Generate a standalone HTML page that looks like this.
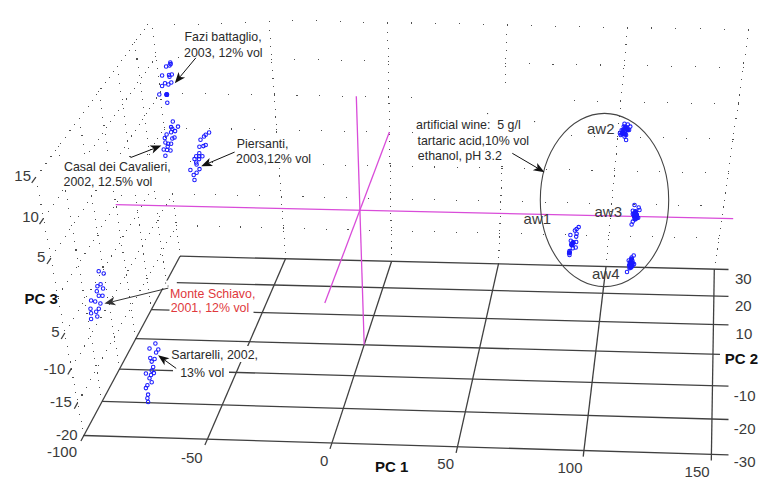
<!DOCTYPE html>
<html><head><meta charset="utf-8"><style>
html,body{margin:0;padding:0;background:#fff;}
svg{display:block}
text{font-family:"Liberation Sans",sans-serif;}
.an{font-size:12.4px;fill:#2a2a2a}
.ax{font-size:15px;fill:#3a3a3a}
.lb{font-size:15px;font-weight:bold;fill:#111}
</style></head><body>
<svg width="763" height="482" viewBox="0 0 763 482">
<rect width="763" height="482" fill="#fff"/>
<g shape-rendering="crispEdges">
<rect x="175.7" y="224.9" width="1.1" height="1.1" fill="#505050"/>
<rect x="197.1" y="225.4" width="1.1" height="1.1" fill="#505050"/>
<rect x="218.5" y="225.9" width="1.1" height="1.1" fill="#505050"/>
<rect x="239.9" y="226.4" width="1.1" height="1.1" fill="#505050"/>
<rect x="261.3" y="226.9" width="1.1" height="1.1" fill="#505050"/>
<rect x="282.8" y="227.4" width="1.1" height="1.1" fill="#505050"/>
<rect x="304.3" y="227.9" width="1.1" height="1.1" fill="#505050"/>
<rect x="325.8" y="228.5" width="1.1" height="1.1" fill="#505050"/>
<rect x="347.4" y="229.0" width="1.1" height="1.1" fill="#505050"/>
<rect x="368.9" y="229.5" width="1.1" height="1.1" fill="#505050"/>
<rect x="390.5" y="230.0" width="1.1" height="1.1" fill="#505050"/>
<rect x="412.2" y="230.5" width="1.1" height="1.1" fill="#505050"/>
<rect x="433.8" y="231.0" width="1.1" height="1.1" fill="#505050"/>
<rect x="455.5" y="231.5" width="1.1" height="1.1" fill="#505050"/>
<rect x="477.3" y="232.0" width="1.1" height="1.1" fill="#505050"/>
<rect x="499.0" y="232.5" width="1.1" height="1.1" fill="#505050"/>
<rect x="520.8" y="233.0" width="1.1" height="1.1" fill="#505050"/>
<rect x="542.6" y="233.5" width="1.1" height="1.1" fill="#505050"/>
<rect x="564.5" y="234.0" width="1.1" height="1.1" fill="#505050"/>
<rect x="586.3" y="234.5" width="1.1" height="1.1" fill="#505050"/>
<rect x="608.2" y="235.1" width="1.1" height="1.1" fill="#505050"/>
<rect x="630.2" y="235.6" width="1.1" height="1.1" fill="#505050"/>
<rect x="652.1" y="236.1" width="1.1" height="1.1" fill="#505050"/>
<rect x="674.1" y="236.6" width="1.1" height="1.1" fill="#505050"/>
<rect x="696.1" y="237.1" width="1.1" height="1.1" fill="#505050"/>
<rect x="718.2" y="237.6" width="1.1" height="1.1" fill="#505050"/>
<rect x="171.9" y="193.3" width="1.1" height="1.1" fill="#505050"/>
<rect x="193.6" y="193.8" width="1.1" height="1.1" fill="#505050"/>
<rect x="215.3" y="194.3" width="1.1" height="1.1" fill="#505050"/>
<rect x="237.0" y="194.8" width="1.1" height="1.1" fill="#505050"/>
<rect x="258.8" y="195.2" width="1.1" height="1.1" fill="#505050"/>
<rect x="280.6" y="195.7" width="1.1" height="1.1" fill="#505050"/>
<rect x="302.4" y="196.2" width="1.1" height="1.1" fill="#505050"/>
<rect x="324.3" y="196.7" width="1.1" height="1.1" fill="#505050"/>
<rect x="346.1" y="197.2" width="1.1" height="1.1" fill="#505050"/>
<rect x="368.1" y="197.7" width="1.1" height="1.1" fill="#505050"/>
<rect x="390.0" y="198.2" width="1.1" height="1.1" fill="#505050"/>
<rect x="412.0" y="198.7" width="1.1" height="1.1" fill="#505050"/>
<rect x="434.0" y="199.2" width="1.1" height="1.1" fill="#505050"/>
<rect x="456.0" y="199.7" width="1.1" height="1.1" fill="#505050"/>
<rect x="478.1" y="200.2" width="1.1" height="1.1" fill="#505050"/>
<rect x="500.2" y="200.7" width="1.1" height="1.1" fill="#505050"/>
<rect x="522.3" y="201.2" width="1.1" height="1.1" fill="#505050"/>
<rect x="544.5" y="201.7" width="1.1" height="1.1" fill="#505050"/>
<rect x="566.6" y="202.1" width="1.1" height="1.1" fill="#505050"/>
<rect x="588.8" y="202.6" width="1.1" height="1.1" fill="#505050"/>
<rect x="611.1" y="203.1" width="1.1" height="1.1" fill="#505050"/>
<rect x="633.4" y="203.6" width="1.1" height="1.1" fill="#505050"/>
<rect x="655.7" y="204.1" width="1.1" height="1.1" fill="#505050"/>
<rect x="678.0" y="204.6" width="1.1" height="1.1" fill="#505050"/>
<rect x="700.4" y="205.1" width="1.1" height="1.1" fill="#505050"/>
<rect x="722.8" y="205.6" width="1.1" height="1.1" fill="#505050"/>
<rect x="167.9" y="160.7" width="1.1" height="1.1" fill="#505050"/>
<rect x="189.9" y="161.1" width="1.1" height="1.1" fill="#505050"/>
<rect x="212.0" y="161.6" width="1.1" height="1.1" fill="#505050"/>
<rect x="234.1" y="162.1" width="1.1" height="1.1" fill="#505050"/>
<rect x="256.2" y="162.6" width="1.1" height="1.1" fill="#505050"/>
<rect x="278.3" y="163.0" width="1.1" height="1.1" fill="#505050"/>
<rect x="300.5" y="163.5" width="1.1" height="1.1" fill="#505050"/>
<rect x="322.7" y="164.0" width="1.1" height="1.1" fill="#505050"/>
<rect x="344.9" y="164.5" width="1.1" height="1.1" fill="#505050"/>
<rect x="367.2" y="164.9" width="1.1" height="1.1" fill="#505050"/>
<rect x="389.5" y="165.4" width="1.1" height="1.1" fill="#505050"/>
<rect x="411.8" y="165.9" width="1.1" height="1.1" fill="#505050"/>
<rect x="434.1" y="166.4" width="1.1" height="1.1" fill="#505050"/>
<rect x="456.5" y="166.8" width="1.1" height="1.1" fill="#505050"/>
<rect x="478.9" y="167.3" width="1.1" height="1.1" fill="#505050"/>
<rect x="501.4" y="167.8" width="1.1" height="1.1" fill="#505050"/>
<rect x="523.8" y="168.3" width="1.1" height="1.1" fill="#505050"/>
<rect x="546.3" y="168.8" width="1.1" height="1.1" fill="#505050"/>
<rect x="568.9" y="169.3" width="1.1" height="1.1" fill="#505050"/>
<rect x="591.4" y="169.7" width="1.1" height="1.1" fill="#505050"/>
<rect x="614.0" y="170.2" width="1.1" height="1.1" fill="#505050"/>
<rect x="636.7" y="170.7" width="1.1" height="1.1" fill="#505050"/>
<rect x="659.3" y="171.2" width="1.1" height="1.1" fill="#505050"/>
<rect x="682.0" y="171.7" width="1.1" height="1.1" fill="#505050"/>
<rect x="704.7" y="172.2" width="1.1" height="1.1" fill="#505050"/>
<rect x="727.5" y="172.7" width="1.1" height="1.1" fill="#505050"/>
<rect x="163.8" y="127.0" width="1.1" height="1.1" fill="#505050"/>
<rect x="186.2" y="127.5" width="1.1" height="1.1" fill="#505050"/>
<rect x="208.6" y="127.9" width="1.1" height="1.1" fill="#505050"/>
<rect x="231.0" y="128.4" width="1.1" height="1.1" fill="#505050"/>
<rect x="253.5" y="128.8" width="1.1" height="1.1" fill="#505050"/>
<rect x="276.0" y="129.3" width="1.1" height="1.1" fill="#505050"/>
<rect x="298.5" y="129.7" width="1.1" height="1.1" fill="#505050"/>
<rect x="321.0" y="130.2" width="1.1" height="1.1" fill="#505050"/>
<rect x="343.6" y="130.7" width="1.1" height="1.1" fill="#505050"/>
<rect x="366.2" y="131.1" width="1.1" height="1.1" fill="#505050"/>
<rect x="388.9" y="131.6" width="1.1" height="1.1" fill="#505050"/>
<rect x="411.6" y="132.0" width="1.1" height="1.1" fill="#505050"/>
<rect x="434.3" y="132.5" width="1.1" height="1.1" fill="#505050"/>
<rect x="457.0" y="133.0" width="1.1" height="1.1" fill="#505050"/>
<rect x="479.8" y="133.4" width="1.1" height="1.1" fill="#505050"/>
<rect x="502.6" y="133.9" width="1.1" height="1.1" fill="#505050"/>
<rect x="525.4" y="134.4" width="1.1" height="1.1" fill="#505050"/>
<rect x="548.3" y="134.8" width="1.1" height="1.1" fill="#505050"/>
<rect x="571.2" y="135.3" width="1.1" height="1.1" fill="#505050"/>
<rect x="594.1" y="135.8" width="1.1" height="1.1" fill="#505050"/>
<rect x="617.1" y="136.2" width="1.1" height="1.1" fill="#505050"/>
<rect x="640.1" y="136.7" width="1.1" height="1.1" fill="#505050"/>
<rect x="663.1" y="137.2" width="1.1" height="1.1" fill="#505050"/>
<rect x="686.2" y="137.6" width="1.1" height="1.1" fill="#505050"/>
<rect x="709.3" y="138.1" width="1.1" height="1.1" fill="#505050"/>
<rect x="732.4" y="138.6" width="1.1" height="1.1" fill="#505050"/>
<rect x="159.6" y="92.2" width="1.1" height="1.1" fill="#505050"/>
<rect x="182.3" y="92.7" width="1.1" height="1.1" fill="#505050"/>
<rect x="205.1" y="93.1" width="1.1" height="1.1" fill="#505050"/>
<rect x="227.9" y="93.6" width="1.1" height="1.1" fill="#505050"/>
<rect x="250.7" y="94.0" width="1.1" height="1.1" fill="#505050"/>
<rect x="273.5" y="94.4" width="1.1" height="1.1" fill="#505050"/>
<rect x="296.4" y="94.9" width="1.1" height="1.1" fill="#505050"/>
<rect x="319.3" y="95.3" width="1.1" height="1.1" fill="#505050"/>
<rect x="342.3" y="95.8" width="1.1" height="1.1" fill="#505050"/>
<rect x="365.3" y="96.2" width="1.1" height="1.1" fill="#505050"/>
<rect x="388.3" y="96.7" width="1.1" height="1.1" fill="#505050"/>
<rect x="411.3" y="97.1" width="1.1" height="1.1" fill="#505050"/>
<rect x="434.4" y="97.5" width="1.1" height="1.1" fill="#505050"/>
<rect x="457.5" y="98.0" width="1.1" height="1.1" fill="#505050"/>
<rect x="480.7" y="98.4" width="1.1" height="1.1" fill="#505050"/>
<rect x="503.8" y="98.9" width="1.1" height="1.1" fill="#505050"/>
<rect x="527.1" y="99.3" width="1.1" height="1.1" fill="#505050"/>
<rect x="550.3" y="99.8" width="1.1" height="1.1" fill="#505050"/>
<rect x="573.6" y="100.2" width="1.1" height="1.1" fill="#505050"/>
<rect x="596.9" y="100.7" width="1.1" height="1.1" fill="#505050"/>
<rect x="620.2" y="101.1" width="1.1" height="1.1" fill="#505050"/>
<rect x="643.6" y="101.6" width="1.1" height="1.1" fill="#505050"/>
<rect x="667.0" y="102.0" width="1.1" height="1.1" fill="#505050"/>
<rect x="690.5" y="102.5" width="1.1" height="1.1" fill="#505050"/>
<rect x="713.9" y="102.9" width="1.1" height="1.1" fill="#505050"/>
<rect x="737.5" y="103.4" width="1.1" height="1.1" fill="#505050"/>
<rect x="155.2" y="56.3" width="1.1" height="1.1" fill="#505050"/>
<rect x="178.3" y="56.8" width="1.1" height="1.1" fill="#505050"/>
<rect x="201.5" y="57.2" width="1.1" height="1.1" fill="#505050"/>
<rect x="224.6" y="57.6" width="1.1" height="1.1" fill="#505050"/>
<rect x="247.8" y="58.0" width="1.1" height="1.1" fill="#505050"/>
<rect x="271.0" y="58.5" width="1.1" height="1.1" fill="#505050"/>
<rect x="294.3" y="58.9" width="1.1" height="1.1" fill="#505050"/>
<rect x="317.6" y="59.3" width="1.1" height="1.1" fill="#505050"/>
<rect x="340.9" y="59.7" width="1.1" height="1.1" fill="#505050"/>
<rect x="364.3" y="60.2" width="1.1" height="1.1" fill="#505050"/>
<rect x="387.7" y="60.6" width="1.1" height="1.1" fill="#505050"/>
<rect x="411.1" y="61.0" width="1.1" height="1.1" fill="#505050"/>
<rect x="434.6" y="61.4" width="1.1" height="1.1" fill="#505050"/>
<rect x="458.1" y="61.9" width="1.1" height="1.1" fill="#505050"/>
<rect x="481.6" y="62.3" width="1.1" height="1.1" fill="#505050"/>
<rect x="505.2" y="62.7" width="1.1" height="1.1" fill="#505050"/>
<rect x="528.8" y="63.1" width="1.1" height="1.1" fill="#505050"/>
<rect x="552.4" y="63.6" width="1.1" height="1.1" fill="#505050"/>
<rect x="576.0" y="64.0" width="1.1" height="1.1" fill="#505050"/>
<rect x="599.7" y="64.4" width="1.1" height="1.1" fill="#505050"/>
<rect x="623.5" y="64.9" width="1.1" height="1.1" fill="#505050"/>
<rect x="647.3" y="65.3" width="1.1" height="1.1" fill="#505050"/>
<rect x="671.1" y="65.7" width="1.1" height="1.1" fill="#505050"/>
<rect x="694.9" y="66.2" width="1.1" height="1.1" fill="#505050"/>
<rect x="718.8" y="66.6" width="1.1" height="1.1" fill="#505050"/>
<rect x="742.7" y="67.0" width="1.1" height="1.1" fill="#505050"/>
<rect x="174.2" y="23.8" width="1.1" height="1.1" fill="#505050"/>
<rect x="197.7" y="23.5" width="1.1" height="1.1" fill="#505050"/>
<rect x="221.3" y="23.0" width="1.1" height="1.1" fill="#505050"/>
<rect x="244.8" y="22.1" width="1.1" height="1.1" fill="#505050"/>
<rect x="268.5" y="21.1" width="1.1" height="1.1" fill="#505050"/>
<rect x="292.1" y="20.0" width="1.1" height="1.1" fill="#505050"/>
<rect x="315.8" y="20.0" width="1.1" height="1.1" fill="#505050"/>
<rect x="339.5" y="21.2" width="1.1" height="1.1" fill="#505050"/>
<rect x="363.3" y="21.5" width="1.1" height="1.1" fill="#505050"/>
<rect x="387.0" y="22.1" width="1.1" height="1.1" fill="#505050"/>
<rect x="410.9" y="22.4" width="1.1" height="1.1" fill="#505050"/>
<rect x="434.7" y="23.0" width="1.1" height="1.1" fill="#505050"/>
<rect x="458.6" y="23.3" width="1.1" height="1.1" fill="#505050"/>
<rect x="482.5" y="23.9" width="1.1" height="1.1" fill="#505050"/>
<rect x="506.5" y="23.9" width="1.1" height="1.1" fill="#505050"/>
<rect x="530.5" y="25.2" width="1.1" height="1.1" fill="#505050"/>
<rect x="554.5" y="25.8" width="1.1" height="1.1" fill="#505050"/>
<rect x="578.6" y="26.3" width="1.1" height="1.1" fill="#505050"/>
<rect x="602.7" y="26.6" width="1.1" height="1.1" fill="#505050"/>
<rect x="626.8" y="26.9" width="1.1" height="1.1" fill="#505050"/>
<rect x="651.0" y="27.4" width="1.1" height="1.1" fill="#505050"/>
<rect x="675.2" y="28.1" width="1.1" height="1.1" fill="#505050"/>
<rect x="699.5" y="28.1" width="1.1" height="1.1" fill="#505050"/>
<rect x="723.8" y="28.8" width="1.1" height="1.1" fill="#505050"/>
<rect x="748.1" y="28.8" width="1.1" height="1.1" fill="#505050"/>
<rect x="284.9" y="258.2" width="1.1" height="1.1" fill="#505050"/>
<rect x="284.5" y="251.6" width="1.1" height="1.1" fill="#505050"/>
<rect x="284.0" y="244.9" width="1.1" height="1.1" fill="#505050"/>
<rect x="283.5" y="238.1" width="1.1" height="1.1" fill="#505050"/>
<rect x="283.1" y="231.3" width="1.1" height="1.1" fill="#505050"/>
<rect x="282.6" y="224.5" width="1.1" height="1.1" fill="#505050"/>
<rect x="282.1" y="217.6" width="1.1" height="1.1" fill="#505050"/>
<rect x="281.6" y="210.7" width="1.1" height="1.1" fill="#505050"/>
<rect x="281.1" y="203.8" width="1.1" height="1.1" fill="#505050"/>
<rect x="280.7" y="196.7" width="1.1" height="1.1" fill="#505050"/>
<rect x="280.2" y="189.7" width="1.1" height="1.1" fill="#505050"/>
<rect x="279.7" y="182.6" width="1.1" height="1.1" fill="#505050"/>
<rect x="279.2" y="175.4" width="1.1" height="1.1" fill="#505050"/>
<rect x="278.7" y="168.2" width="1.1" height="1.1" fill="#505050"/>
<rect x="278.2" y="161.0" width="1.1" height="1.1" fill="#505050"/>
<rect x="277.7" y="153.7" width="1.1" height="1.1" fill="#505050"/>
<rect x="277.1" y="146.3" width="1.1" height="1.1" fill="#505050"/>
<rect x="276.6" y="138.9" width="1.1" height="1.1" fill="#505050"/>
<rect x="276.1" y="131.4" width="1.1" height="1.1" fill="#505050"/>
<rect x="275.6" y="123.9" width="1.1" height="1.1" fill="#505050"/>
<rect x="275.1" y="116.4" width="1.1" height="1.1" fill="#505050"/>
<rect x="274.5" y="108.7" width="1.1" height="1.1" fill="#505050"/>
<rect x="274.0" y="101.1" width="1.1" height="1.1" fill="#505050"/>
<rect x="273.5" y="93.3" width="1.1" height="1.1" fill="#505050"/>
<rect x="272.9" y="85.6" width="1.1" height="1.1" fill="#505050"/>
<rect x="272.4" y="77.7" width="1.1" height="1.1" fill="#505050"/>
<rect x="271.8" y="69.8" width="1.1" height="1.1" fill="#505050"/>
<rect x="271.3" y="61.9" width="1.1" height="1.1" fill="#505050"/>
<rect x="270.7" y="53.9" width="1.1" height="1.1" fill="#505050"/>
<rect x="270.2" y="45.8" width="1.1" height="1.1" fill="#505050"/>
<rect x="269.6" y="37.7" width="1.1" height="1.1" fill="#505050"/>
<rect x="269.0" y="29.5" width="1.1" height="1.1" fill="#505050"/>
<rect x="268.5" y="21.3" width="1.1" height="1.1" fill="#505050"/>
<rect x="391.1" y="260.8" width="1.1" height="1.1" fill="#505050"/>
<rect x="391.0" y="254.1" width="1.1" height="1.1" fill="#505050"/>
<rect x="390.8" y="247.4" width="1.1" height="1.1" fill="#505050"/>
<rect x="390.7" y="240.7" width="1.1" height="1.1" fill="#505050"/>
<rect x="390.6" y="233.9" width="1.1" height="1.1" fill="#505050"/>
<rect x="390.5" y="227.0" width="1.1" height="1.1" fill="#505050"/>
<rect x="390.4" y="220.1" width="1.1" height="1.1" fill="#505050"/>
<rect x="390.3" y="213.2" width="1.1" height="1.1" fill="#505050"/>
<rect x="390.1" y="206.2" width="1.1" height="1.1" fill="#505050"/>
<rect x="390.0" y="199.2" width="1.1" height="1.1" fill="#505050"/>
<rect x="389.9" y="192.1" width="1.1" height="1.1" fill="#505050"/>
<rect x="389.8" y="185.0" width="1.1" height="1.1" fill="#505050"/>
<rect x="389.7" y="177.8" width="1.1" height="1.1" fill="#505050"/>
<rect x="389.5" y="170.6" width="1.1" height="1.1" fill="#505050"/>
<rect x="389.4" y="163.3" width="1.1" height="1.1" fill="#505050"/>
<rect x="389.3" y="156.0" width="1.1" height="1.1" fill="#505050"/>
<rect x="389.2" y="148.6" width="1.1" height="1.1" fill="#505050"/>
<rect x="389.0" y="141.2" width="1.1" height="1.1" fill="#505050"/>
<rect x="388.9" y="133.7" width="1.1" height="1.1" fill="#505050"/>
<rect x="388.8" y="126.2" width="1.1" height="1.1" fill="#505050"/>
<rect x="388.7" y="118.6" width="1.1" height="1.1" fill="#505050"/>
<rect x="388.5" y="111.0" width="1.1" height="1.1" fill="#505050"/>
<rect x="388.4" y="103.3" width="1.1" height="1.1" fill="#505050"/>
<rect x="388.3" y="95.5" width="1.1" height="1.1" fill="#505050"/>
<rect x="388.1" y="87.7" width="1.1" height="1.1" fill="#505050"/>
<rect x="388.0" y="79.9" width="1.1" height="1.1" fill="#505050"/>
<rect x="387.9" y="72.0" width="1.1" height="1.1" fill="#505050"/>
<rect x="387.7" y="64.0" width="1.1" height="1.1" fill="#505050"/>
<rect x="387.6" y="56.0" width="1.1" height="1.1" fill="#505050"/>
<rect x="387.5" y="47.9" width="1.1" height="1.1" fill="#505050"/>
<rect x="387.3" y="39.7" width="1.1" height="1.1" fill="#505050"/>
<rect x="387.2" y="31.5" width="1.1" height="1.1" fill="#505050"/>
<rect x="387.0" y="23.3" width="1.1" height="1.1" fill="#505050"/>
<rect x="497.9" y="263.4" width="1.1" height="1.1" fill="#505050"/>
<rect x="498.1" y="256.7" width="1.1" height="1.1" fill="#505050"/>
<rect x="498.4" y="250.0" width="1.1" height="1.1" fill="#505050"/>
<rect x="498.6" y="243.2" width="1.1" height="1.1" fill="#505050"/>
<rect x="498.9" y="236.4" width="1.1" height="1.1" fill="#505050"/>
<rect x="499.1" y="229.6" width="1.1" height="1.1" fill="#505050"/>
<rect x="499.4" y="222.7" width="1.1" height="1.1" fill="#505050"/>
<rect x="499.6" y="215.7" width="1.1" height="1.1" fill="#505050"/>
<rect x="499.9" y="208.7" width="1.1" height="1.1" fill="#505050"/>
<rect x="500.1" y="201.7" width="1.1" height="1.1" fill="#505050"/>
<rect x="500.4" y="194.6" width="1.1" height="1.1" fill="#505050"/>
<rect x="500.7" y="187.4" width="1.1" height="1.1" fill="#505050"/>
<rect x="500.9" y="180.2" width="1.1" height="1.1" fill="#505050"/>
<rect x="501.2" y="173.0" width="1.1" height="1.1" fill="#505050"/>
<rect x="501.4" y="165.7" width="1.1" height="1.1" fill="#505050"/>
<rect x="501.7" y="158.4" width="1.1" height="1.1" fill="#505050"/>
<rect x="502.0" y="151.0" width="1.1" height="1.1" fill="#505050"/>
<rect x="502.2" y="143.5" width="1.1" height="1.1" fill="#505050"/>
<rect x="502.5" y="136.1" width="1.1" height="1.1" fill="#505050"/>
<rect x="502.8" y="128.5" width="1.1" height="1.1" fill="#505050"/>
<rect x="503.1" y="120.9" width="1.1" height="1.1" fill="#505050"/>
<rect x="503.3" y="113.2" width="1.1" height="1.1" fill="#505050"/>
<rect x="503.6" y="105.5" width="1.1" height="1.1" fill="#505050"/>
<rect x="503.9" y="97.8" width="1.1" height="1.1" fill="#505050"/>
<rect x="504.2" y="90.0" width="1.1" height="1.1" fill="#505050"/>
<rect x="504.5" y="82.1" width="1.1" height="1.1" fill="#505050"/>
<rect x="504.7" y="74.1" width="1.1" height="1.1" fill="#505050"/>
<rect x="505.0" y="66.2" width="1.1" height="1.1" fill="#505050"/>
<rect x="505.3" y="58.1" width="1.1" height="1.1" fill="#505050"/>
<rect x="505.6" y="50.0" width="1.1" height="1.1" fill="#505050"/>
<rect x="505.9" y="41.8" width="1.1" height="1.1" fill="#505050"/>
<rect x="506.2" y="33.6" width="1.1" height="1.1" fill="#505050"/>
<rect x="506.5" y="25.3" width="1.1" height="1.1" fill="#505050"/>
<rect x="605.5" y="266.0" width="1.1" height="1.1" fill="#505050"/>
<rect x="606.1" y="259.3" width="1.1" height="1.1" fill="#505050"/>
<rect x="606.7" y="252.6" width="1.1" height="1.1" fill="#505050"/>
<rect x="607.3" y="245.8" width="1.1" height="1.1" fill="#505050"/>
<rect x="607.9" y="239.0" width="1.1" height="1.1" fill="#505050"/>
<rect x="608.5" y="232.1" width="1.1" height="1.1" fill="#505050"/>
<rect x="609.1" y="225.2" width="1.1" height="1.1" fill="#505050"/>
<rect x="609.7" y="218.2" width="1.1" height="1.1" fill="#505050"/>
<rect x="610.4" y="211.2" width="1.1" height="1.1" fill="#505050"/>
<rect x="611.0" y="204.2" width="1.1" height="1.1" fill="#505050"/>
<rect x="611.6" y="197.1" width="1.1" height="1.1" fill="#505050"/>
<rect x="612.3" y="189.9" width="1.1" height="1.1" fill="#505050"/>
<rect x="612.9" y="182.7" width="1.1" height="1.1" fill="#505050"/>
<rect x="613.6" y="175.4" width="1.1" height="1.1" fill="#505050"/>
<rect x="614.2" y="168.1" width="1.1" height="1.1" fill="#505050"/>
<rect x="614.9" y="160.8" width="1.1" height="1.1" fill="#505050"/>
<rect x="615.6" y="153.4" width="1.1" height="1.1" fill="#505050"/>
<rect x="616.2" y="145.9" width="1.1" height="1.1" fill="#505050"/>
<rect x="616.9" y="138.4" width="1.1" height="1.1" fill="#505050"/>
<rect x="617.6" y="130.8" width="1.1" height="1.1" fill="#505050"/>
<rect x="618.3" y="123.2" width="1.1" height="1.1" fill="#505050"/>
<rect x="618.9" y="115.5" width="1.1" height="1.1" fill="#505050"/>
<rect x="619.6" y="107.8" width="1.1" height="1.1" fill="#505050"/>
<rect x="620.3" y="100.0" width="1.1" height="1.1" fill="#505050"/>
<rect x="621.0" y="92.2" width="1.1" height="1.1" fill="#505050"/>
<rect x="621.7" y="84.3" width="1.1" height="1.1" fill="#505050"/>
<rect x="622.5" y="76.3" width="1.1" height="1.1" fill="#505050"/>
<rect x="623.2" y="68.3" width="1.1" height="1.1" fill="#505050"/>
<rect x="623.9" y="60.2" width="1.1" height="1.1" fill="#505050"/>
<rect x="624.6" y="52.1" width="1.1" height="1.1" fill="#505050"/>
<rect x="625.4" y="43.9" width="1.1" height="1.1" fill="#505050"/>
<rect x="626.1" y="35.7" width="1.1" height="1.1" fill="#505050"/>
<rect x="626.8" y="27.4" width="1.1" height="1.1" fill="#505050"/>
<rect x="713.7" y="268.6" width="1.1" height="1.1" fill="#505050"/>
<rect x="714.7" y="261.9" width="1.1" height="1.1" fill="#505050"/>
<rect x="715.7" y="255.2" width="1.1" height="1.1" fill="#505050"/>
<rect x="716.6" y="248.4" width="1.1" height="1.1" fill="#505050"/>
<rect x="717.6" y="241.6" width="1.1" height="1.1" fill="#505050"/>
<rect x="718.6" y="234.7" width="1.1" height="1.1" fill="#505050"/>
<rect x="719.6" y="227.7" width="1.1" height="1.1" fill="#505050"/>
<rect x="720.6" y="220.8" width="1.1" height="1.1" fill="#505050"/>
<rect x="721.6" y="213.7" width="1.1" height="1.1" fill="#505050"/>
<rect x="722.6" y="206.7" width="1.1" height="1.1" fill="#505050"/>
<rect x="723.6" y="199.5" width="1.1" height="1.1" fill="#505050"/>
<rect x="724.7" y="192.4" width="1.1" height="1.1" fill="#505050"/>
<rect x="725.7" y="185.1" width="1.1" height="1.1" fill="#505050"/>
<rect x="726.8" y="177.9" width="1.1" height="1.1" fill="#505050"/>
<rect x="727.8" y="170.6" width="1.1" height="1.1" fill="#505050"/>
<rect x="728.9" y="163.2" width="1.1" height="1.1" fill="#505050"/>
<rect x="729.9" y="155.8" width="1.1" height="1.1" fill="#505050"/>
<rect x="731.0" y="148.3" width="1.1" height="1.1" fill="#505050"/>
<rect x="732.1" y="140.7" width="1.1" height="1.1" fill="#505050"/>
<rect x="733.2" y="133.2" width="1.1" height="1.1" fill="#505050"/>
<rect x="734.3" y="125.5" width="1.1" height="1.1" fill="#505050"/>
<rect x="735.4" y="117.8" width="1.1" height="1.1" fill="#505050"/>
<rect x="736.5" y="110.1" width="1.1" height="1.1" fill="#505050"/>
<rect x="737.6" y="102.3" width="1.1" height="1.1" fill="#505050"/>
<rect x="738.7" y="94.4" width="1.1" height="1.1" fill="#505050"/>
<rect x="739.9" y="86.5" width="1.1" height="1.1" fill="#505050"/>
<rect x="741.0" y="78.5" width="1.1" height="1.1" fill="#505050"/>
<rect x="742.2" y="70.5" width="1.1" height="1.1" fill="#505050"/>
<rect x="743.3" y="62.4" width="1.1" height="1.1" fill="#505050"/>
<rect x="744.5" y="54.2" width="1.1" height="1.1" fill="#505050"/>
<rect x="745.7" y="46.0" width="1.1" height="1.1" fill="#505050"/>
<rect x="746.9" y="37.8" width="1.1" height="1.1" fill="#505050"/>
<rect x="748.1" y="29.4" width="1.1" height="1.1" fill="#505050"/>
<rect x="179.5" y="255.6" width="1.1" height="1.1" fill="#505050"/>
<rect x="178.7" y="249.0" width="1.1" height="1.1" fill="#505050"/>
<rect x="177.8" y="242.3" width="1.1" height="1.1" fill="#505050"/>
<rect x="177.0" y="235.6" width="1.1" height="1.1" fill="#505050"/>
<rect x="176.2" y="228.8" width="1.1" height="1.1" fill="#505050"/>
<rect x="175.4" y="222.0" width="1.1" height="1.1" fill="#505050"/>
<rect x="174.5" y="215.2" width="1.1" height="1.1" fill="#505050"/>
<rect x="173.7" y="208.3" width="1.1" height="1.1" fill="#505050"/>
<rect x="172.9" y="201.3" width="1.1" height="1.1" fill="#505050"/>
<rect x="172.0" y="194.3" width="1.1" height="1.1" fill="#505050"/>
<rect x="171.2" y="187.3" width="1.1" height="1.1" fill="#505050"/>
<rect x="170.3" y="180.2" width="1.1" height="1.1" fill="#505050"/>
<rect x="169.4" y="173.0" width="1.1" height="1.1" fill="#505050"/>
<rect x="168.6" y="165.8" width="1.1" height="1.1" fill="#505050"/>
<rect x="167.7" y="158.6" width="1.1" height="1.1" fill="#505050"/>
<rect x="166.8" y="151.3" width="1.1" height="1.1" fill="#505050"/>
<rect x="165.9" y="144.0" width="1.1" height="1.1" fill="#505050"/>
<rect x="165.0" y="136.6" width="1.1" height="1.1" fill="#505050"/>
<rect x="164.1" y="129.1" width="1.1" height="1.1" fill="#505050"/>
<rect x="163.2" y="121.6" width="1.1" height="1.1" fill="#505050"/>
<rect x="162.3" y="114.1" width="1.1" height="1.1" fill="#505050"/>
<rect x="161.3" y="106.5" width="1.1" height="1.1" fill="#505050"/>
<rect x="160.4" y="98.8" width="1.1" height="1.1" fill="#505050"/>
<rect x="159.5" y="91.1" width="1.1" height="1.1" fill="#505050"/>
<rect x="158.5" y="83.4" width="1.1" height="1.1" fill="#505050"/>
<rect x="157.6" y="75.6" width="1.1" height="1.1" fill="#505050"/>
<rect x="156.6" y="67.7" width="1.1" height="1.1" fill="#505050"/>
<rect x="155.7" y="59.8" width="1.1" height="1.1" fill="#505050"/>
<rect x="154.7" y="51.8" width="1.1" height="1.1" fill="#505050"/>
<rect x="153.7" y="43.7" width="1.1" height="1.1" fill="#505050"/>
<rect x="152.7" y="35.6" width="1.1" height="1.1" fill="#505050"/>
<rect x="151.7" y="27.5" width="1.1" height="1.1" fill="#505050"/>
<rect x="77.1" y="402.0" width="1.1" height="1.1" fill="#505050"/>
<rect x="81.4" y="394.4" width="1.1" height="1.1" fill="#505050"/>
<rect x="85.6" y="386.8" width="1.1" height="1.1" fill="#505050"/>
<rect x="89.8" y="379.3" width="1.1" height="1.1" fill="#505050"/>
<rect x="93.9" y="371.9" width="1.1" height="1.1" fill="#505050"/>
<rect x="98.0" y="364.6" width="1.1" height="1.1" fill="#505050"/>
<rect x="102.0" y="357.4" width="1.1" height="1.1" fill="#505050"/>
<rect x="105.9" y="350.3" width="1.1" height="1.1" fill="#505050"/>
<rect x="109.8" y="343.3" width="1.1" height="1.1" fill="#505050"/>
<rect x="113.7" y="336.4" width="1.1" height="1.1" fill="#505050"/>
<rect x="117.5" y="329.6" width="1.1" height="1.1" fill="#505050"/>
<rect x="121.3" y="322.8" width="1.1" height="1.1" fill="#505050"/>
<rect x="125.0" y="316.1" width="1.1" height="1.1" fill="#505050"/>
<rect x="128.6" y="309.5" width="1.1" height="1.1" fill="#505050"/>
<rect x="132.3" y="303.0" width="1.1" height="1.1" fill="#505050"/>
<rect x="135.9" y="296.6" width="1.1" height="1.1" fill="#505050"/>
<rect x="139.4" y="290.2" width="1.1" height="1.1" fill="#505050"/>
<rect x="142.9" y="283.9" width="1.1" height="1.1" fill="#505050"/>
<rect x="146.4" y="277.7" width="1.1" height="1.1" fill="#505050"/>
<rect x="149.8" y="271.6" width="1.1" height="1.1" fill="#505050"/>
<rect x="153.1" y="265.5" width="1.1" height="1.1" fill="#505050"/>
<rect x="156.5" y="259.5" width="1.1" height="1.1" fill="#505050"/>
<rect x="159.8" y="253.6" width="1.1" height="1.1" fill="#505050"/>
<rect x="163.0" y="247.7" width="1.1" height="1.1" fill="#505050"/>
<rect x="166.3" y="241.9" width="1.1" height="1.1" fill="#505050"/>
<rect x="169.5" y="236.2" width="1.1" height="1.1" fill="#505050"/>
<rect x="172.6" y="230.5" width="1.1" height="1.1" fill="#505050"/>
<rect x="175.7" y="224.9" width="1.1" height="1.1" fill="#505050"/>
<rect x="70.8" y="367.9" width="1.1" height="1.1" fill="#505050"/>
<rect x="75.2" y="360.3" width="1.1" height="1.1" fill="#505050"/>
<rect x="79.5" y="352.8" width="1.1" height="1.1" fill="#505050"/>
<rect x="83.8" y="345.4" width="1.1" height="1.1" fill="#505050"/>
<rect x="88.0" y="338.1" width="1.1" height="1.1" fill="#505050"/>
<rect x="92.2" y="330.9" width="1.1" height="1.1" fill="#505050"/>
<rect x="96.3" y="323.8" width="1.1" height="1.1" fill="#505050"/>
<rect x="100.4" y="316.8" width="1.1" height="1.1" fill="#505050"/>
<rect x="104.4" y="309.9" width="1.1" height="1.1" fill="#505050"/>
<rect x="108.3" y="303.1" width="1.1" height="1.1" fill="#505050"/>
<rect x="112.2" y="296.3" width="1.1" height="1.1" fill="#505050"/>
<rect x="116.1" y="289.7" width="1.1" height="1.1" fill="#505050"/>
<rect x="119.9" y="283.1" width="1.1" height="1.1" fill="#505050"/>
<rect x="123.7" y="276.6" width="1.1" height="1.1" fill="#505050"/>
<rect x="127.4" y="270.1" width="1.1" height="1.1" fill="#505050"/>
<rect x="131.1" y="263.8" width="1.1" height="1.1" fill="#505050"/>
<rect x="134.7" y="257.5" width="1.1" height="1.1" fill="#505050"/>
<rect x="138.3" y="251.3" width="1.1" height="1.1" fill="#505050"/>
<rect x="141.8" y="245.2" width="1.1" height="1.1" fill="#505050"/>
<rect x="145.3" y="239.2" width="1.1" height="1.1" fill="#505050"/>
<rect x="148.8" y="233.2" width="1.1" height="1.1" fill="#505050"/>
<rect x="152.2" y="227.3" width="1.1" height="1.1" fill="#505050"/>
<rect x="155.6" y="221.5" width="1.1" height="1.1" fill="#505050"/>
<rect x="158.9" y="215.7" width="1.1" height="1.1" fill="#505050"/>
<rect x="162.2" y="210.0" width="1.1" height="1.1" fill="#505050"/>
<rect x="165.5" y="204.4" width="1.1" height="1.1" fill="#505050"/>
<rect x="168.7" y="198.8" width="1.1" height="1.1" fill="#505050"/>
<rect x="171.9" y="193.3" width="1.1" height="1.1" fill="#505050"/>
<rect x="64.2" y="332.5" width="1.1" height="1.1" fill="#505050"/>
<rect x="68.7" y="325.0" width="1.1" height="1.1" fill="#505050"/>
<rect x="73.2" y="317.6" width="1.1" height="1.1" fill="#505050"/>
<rect x="77.6" y="310.3" width="1.1" height="1.1" fill="#505050"/>
<rect x="81.9" y="303.1" width="1.1" height="1.1" fill="#505050"/>
<rect x="86.2" y="296.0" width="1.1" height="1.1" fill="#505050"/>
<rect x="90.4" y="289.0" width="1.1" height="1.1" fill="#505050"/>
<rect x="94.6" y="282.1" width="1.1" height="1.1" fill="#505050"/>
<rect x="98.7" y="275.3" width="1.1" height="1.1" fill="#505050"/>
<rect x="102.8" y="268.6" width="1.1" height="1.1" fill="#505050"/>
<rect x="106.8" y="261.9" width="1.1" height="1.1" fill="#505050"/>
<rect x="110.8" y="255.4" width="1.1" height="1.1" fill="#505050"/>
<rect x="114.7" y="248.9" width="1.1" height="1.1" fill="#505050"/>
<rect x="118.5" y="242.5" width="1.1" height="1.1" fill="#505050"/>
<rect x="122.4" y="236.2" width="1.1" height="1.1" fill="#505050"/>
<rect x="126.1" y="229.9" width="1.1" height="1.1" fill="#505050"/>
<rect x="129.8" y="223.8" width="1.1" height="1.1" fill="#505050"/>
<rect x="133.5" y="217.7" width="1.1" height="1.1" fill="#505050"/>
<rect x="137.1" y="211.7" width="1.1" height="1.1" fill="#505050"/>
<rect x="140.7" y="205.7" width="1.1" height="1.1" fill="#505050"/>
<rect x="144.3" y="199.9" width="1.1" height="1.1" fill="#505050"/>
<rect x="147.8" y="194.1" width="1.1" height="1.1" fill="#505050"/>
<rect x="151.2" y="188.3" width="1.1" height="1.1" fill="#505050"/>
<rect x="154.6" y="182.7" width="1.1" height="1.1" fill="#505050"/>
<rect x="158.0" y="177.1" width="1.1" height="1.1" fill="#505050"/>
<rect x="161.4" y="171.5" width="1.1" height="1.1" fill="#505050"/>
<rect x="164.7" y="166.1" width="1.1" height="1.1" fill="#505050"/>
<rect x="167.9" y="160.7" width="1.1" height="1.1" fill="#505050"/>
<rect x="57.4" y="295.7" width="1.1" height="1.1" fill="#505050"/>
<rect x="62.1" y="288.4" width="1.1" height="1.1" fill="#505050"/>
<rect x="66.6" y="281.1" width="1.1" height="1.1" fill="#505050"/>
<rect x="71.2" y="273.9" width="1.1" height="1.1" fill="#505050"/>
<rect x="75.6" y="266.8" width="1.1" height="1.1" fill="#505050"/>
<rect x="80.0" y="259.9" width="1.1" height="1.1" fill="#505050"/>
<rect x="84.4" y="253.0" width="1.1" height="1.1" fill="#505050"/>
<rect x="88.7" y="246.2" width="1.1" height="1.1" fill="#505050"/>
<rect x="92.9" y="239.5" width="1.1" height="1.1" fill="#505050"/>
<rect x="97.1" y="232.9" width="1.1" height="1.1" fill="#505050"/>
<rect x="101.2" y="226.3" width="1.1" height="1.1" fill="#505050"/>
<rect x="105.3" y="219.9" width="1.1" height="1.1" fill="#505050"/>
<rect x="109.3" y="213.5" width="1.1" height="1.1" fill="#505050"/>
<rect x="113.2" y="207.2" width="1.1" height="1.1" fill="#505050"/>
<rect x="117.1" y="201.0" width="1.1" height="1.1" fill="#505050"/>
<rect x="121.0" y="194.9" width="1.1" height="1.1" fill="#505050"/>
<rect x="124.8" y="188.9" width="1.1" height="1.1" fill="#505050"/>
<rect x="128.6" y="182.9" width="1.1" height="1.1" fill="#505050"/>
<rect x="132.3" y="177.0" width="1.1" height="1.1" fill="#505050"/>
<rect x="136.0" y="171.2" width="1.1" height="1.1" fill="#505050"/>
<rect x="139.6" y="165.4" width="1.1" height="1.1" fill="#505050"/>
<rect x="143.2" y="159.7" width="1.1" height="1.1" fill="#505050"/>
<rect x="146.7" y="154.1" width="1.1" height="1.1" fill="#505050"/>
<rect x="150.2" y="148.5" width="1.1" height="1.1" fill="#505050"/>
<rect x="153.7" y="143.1" width="1.1" height="1.1" fill="#505050"/>
<rect x="157.1" y="137.6" width="1.1" height="1.1" fill="#505050"/>
<rect x="160.5" y="132.3" width="1.1" height="1.1" fill="#505050"/>
<rect x="163.8" y="127.0" width="1.1" height="1.1" fill="#505050"/>
<rect x="50.3" y="257.6" width="1.1" height="1.1" fill="#505050"/>
<rect x="55.1" y="250.3" width="1.1" height="1.1" fill="#505050"/>
<rect x="59.8" y="243.2" width="1.1" height="1.1" fill="#505050"/>
<rect x="64.5" y="236.1" width="1.1" height="1.1" fill="#505050"/>
<rect x="69.1" y="229.2" width="1.1" height="1.1" fill="#505050"/>
<rect x="73.6" y="222.3" width="1.1" height="1.1" fill="#505050"/>
<rect x="78.1" y="215.6" width="1.1" height="1.1" fill="#505050"/>
<rect x="82.5" y="208.9" width="1.1" height="1.1" fill="#505050"/>
<rect x="86.8" y="202.3" width="1.1" height="1.1" fill="#505050"/>
<rect x="91.1" y="195.8" width="1.1" height="1.1" fill="#505050"/>
<rect x="95.4" y="189.4" width="1.1" height="1.1" fill="#505050"/>
<rect x="99.5" y="183.1" width="1.1" height="1.1" fill="#505050"/>
<rect x="103.7" y="176.9" width="1.1" height="1.1" fill="#505050"/>
<rect x="107.7" y="170.7" width="1.1" height="1.1" fill="#505050"/>
<rect x="111.7" y="164.6" width="1.1" height="1.1" fill="#505050"/>
<rect x="115.7" y="158.6" width="1.1" height="1.1" fill="#505050"/>
<rect x="119.6" y="152.7" width="1.1" height="1.1" fill="#505050"/>
<rect x="123.5" y="146.9" width="1.1" height="1.1" fill="#505050"/>
<rect x="127.3" y="141.1" width="1.1" height="1.1" fill="#505050"/>
<rect x="131.1" y="135.4" width="1.1" height="1.1" fill="#505050"/>
<rect x="134.8" y="129.8" width="1.1" height="1.1" fill="#505050"/>
<rect x="138.5" y="124.2" width="1.1" height="1.1" fill="#505050"/>
<rect x="142.1" y="118.7" width="1.1" height="1.1" fill="#505050"/>
<rect x="145.7" y="113.3" width="1.1" height="1.1" fill="#505050"/>
<rect x="149.2" y="107.9" width="1.1" height="1.1" fill="#505050"/>
<rect x="152.7" y="102.6" width="1.1" height="1.1" fill="#505050"/>
<rect x="156.2" y="97.4" width="1.1" height="1.1" fill="#505050"/>
<rect x="159.6" y="92.2" width="1.1" height="1.1" fill="#505050"/>
<rect x="43.0" y="217.9" width="1.1" height="1.1" fill="#505050"/>
<rect x="47.9" y="210.8" width="1.1" height="1.1" fill="#505050"/>
<rect x="52.8" y="203.8" width="1.1" height="1.1" fill="#505050"/>
<rect x="57.6" y="196.9" width="1.1" height="1.1" fill="#505050"/>
<rect x="62.3" y="190.1" width="1.1" height="1.1" fill="#505050"/>
<rect x="66.9" y="183.4" width="1.1" height="1.1" fill="#505050"/>
<rect x="71.5" y="176.8" width="1.1" height="1.1" fill="#505050"/>
<rect x="76.1" y="170.2" width="1.1" height="1.1" fill="#505050"/>
<rect x="80.6" y="163.8" width="1.1" height="1.1" fill="#505050"/>
<rect x="85.0" y="157.5" width="1.1" height="1.1" fill="#505050"/>
<rect x="89.3" y="151.2" width="1.1" height="1.1" fill="#505050"/>
<rect x="93.6" y="145.0" width="1.1" height="1.1" fill="#505050"/>
<rect x="97.9" y="138.9" width="1.1" height="1.1" fill="#505050"/>
<rect x="102.0" y="132.9" width="1.1" height="1.1" fill="#505050"/>
<rect x="106.2" y="127.0" width="1.1" height="1.1" fill="#505050"/>
<rect x="110.2" y="121.1" width="1.1" height="1.1" fill="#505050"/>
<rect x="114.2" y="115.3" width="1.1" height="1.1" fill="#505050"/>
<rect x="118.2" y="109.6" width="1.1" height="1.1" fill="#505050"/>
<rect x="122.1" y="104.0" width="1.1" height="1.1" fill="#505050"/>
<rect x="126.0" y="98.4" width="1.1" height="1.1" fill="#505050"/>
<rect x="129.8" y="92.9" width="1.1" height="1.1" fill="#505050"/>
<rect x="133.6" y="87.5" width="1.1" height="1.1" fill="#505050"/>
<rect x="137.3" y="82.2" width="1.1" height="1.1" fill="#505050"/>
<rect x="141.0" y="76.9" width="1.1" height="1.1" fill="#505050"/>
<rect x="144.6" y="71.6" width="1.1" height="1.1" fill="#505050"/>
<rect x="148.2" y="66.5" width="1.1" height="1.1" fill="#505050"/>
<rect x="151.7" y="61.4" width="1.1" height="1.1" fill="#505050"/>
<rect x="155.2" y="56.3" width="1.1" height="1.1" fill="#505050"/>
<rect x="35.3" y="176.6" width="1.1" height="1.1" fill="#505050"/>
<rect x="40.4" y="169.7" width="1.1" height="1.1" fill="#505050"/>
<rect x="45.4" y="162.9" width="1.1" height="1.1" fill="#505050"/>
<rect x="50.4" y="156.1" width="1.1" height="1.1" fill="#505050"/>
<rect x="55.2" y="149.5" width="1.1" height="1.1" fill="#505050"/>
<rect x="60.0" y="142.9" width="1.1" height="1.1" fill="#505050"/>
<rect x="64.8" y="136.5" width="1.1" height="1.1" fill="#505050"/>
<rect x="69.4" y="130.1" width="1.1" height="1.1" fill="#505050"/>
<rect x="74.0" y="123.8" width="1.1" height="1.1" fill="#505050"/>
<rect x="78.6" y="117.6" width="1.1" height="1.1" fill="#505050"/>
<rect x="83.1" y="111.5" width="1.1" height="1.1" fill="#505050"/>
<rect x="87.5" y="105.5" width="1.1" height="1.1" fill="#505050"/>
<rect x="91.8" y="99.6" width="1.1" height="1.1" fill="#505050"/>
<rect x="96.1" y="93.7" width="1.1" height="1.1" fill="#505050"/>
<rect x="100.4" y="87.9" width="1.1" height="1.1" fill="#505050"/>
<rect x="104.5" y="82.2" width="1.1" height="1.1" fill="#505050"/>
<rect x="108.7" y="76.6" width="1.1" height="1.1" fill="#505050"/>
<rect x="112.8" y="71.0" width="1.1" height="1.1" fill="#505050"/>
<rect x="116.8" y="65.6" width="1.1" height="1.1" fill="#505050"/>
<rect x="120.7" y="60.1" width="1.1" height="1.1" fill="#505050"/>
<rect x="124.7" y="54.8" width="1.1" height="1.1" fill="#505050"/>
<rect x="128.5" y="49.5" width="1.1" height="1.1" fill="#505050"/>
<rect x="132.3" y="44.3" width="1.1" height="1.1" fill="#505050"/>
<rect x="136.1" y="39.2" width="1.1" height="1.1" fill="#505050"/>
<rect x="139.8" y="34.1" width="1.1" height="1.1" fill="#505050"/>
<rect x="143.5" y="29.1" width="1.1" height="1.1" fill="#505050"/>
<rect x="147.2" y="24.1" width="1.1" height="1.1" fill="#505050"/>
<rect x="83.2" y="435.0" width="1.1" height="1.1" fill="#505050"/>
<rect x="81.9" y="427.9" width="1.1" height="1.1" fill="#505050"/>
<rect x="80.6" y="420.7" width="1.1" height="1.1" fill="#505050"/>
<rect x="79.3" y="413.5" width="1.1" height="1.1" fill="#505050"/>
<rect x="77.9" y="406.2" width="1.1" height="1.1" fill="#505050"/>
<rect x="76.5" y="398.9" width="1.1" height="1.1" fill="#505050"/>
<rect x="75.2" y="391.5" width="1.1" height="1.1" fill="#505050"/>
<rect x="73.8" y="384.1" width="1.1" height="1.1" fill="#505050"/>
<rect x="72.4" y="376.6" width="1.1" height="1.1" fill="#505050"/>
<rect x="71.0" y="369.0" width="1.1" height="1.1" fill="#505050"/>
<rect x="69.6" y="361.4" width="1.1" height="1.1" fill="#505050"/>
<rect x="68.2" y="353.7" width="1.1" height="1.1" fill="#505050"/>
<rect x="66.7" y="345.9" width="1.1" height="1.1" fill="#505050"/>
<rect x="65.3" y="338.1" width="1.1" height="1.1" fill="#505050"/>
<rect x="63.8" y="330.2" width="1.1" height="1.1" fill="#505050"/>
<rect x="62.3" y="322.3" width="1.1" height="1.1" fill="#505050"/>
<rect x="60.8" y="314.3" width="1.1" height="1.1" fill="#505050"/>
<rect x="59.3" y="306.2" width="1.1" height="1.1" fill="#505050"/>
<rect x="57.8" y="298.1" width="1.1" height="1.1" fill="#505050"/>
<rect x="56.3" y="289.9" width="1.1" height="1.1" fill="#505050"/>
<rect x="54.8" y="281.6" width="1.1" height="1.1" fill="#505050"/>
<rect x="53.2" y="273.2" width="1.1" height="1.1" fill="#505050"/>
<rect x="51.7" y="264.8" width="1.1" height="1.1" fill="#505050"/>
<rect x="50.1" y="256.3" width="1.1" height="1.1" fill="#505050"/>
<rect x="48.5" y="247.8" width="1.1" height="1.1" fill="#505050"/>
<rect x="46.9" y="239.2" width="1.1" height="1.1" fill="#505050"/>
<rect x="45.3" y="230.5" width="1.1" height="1.1" fill="#505050"/>
<rect x="43.7" y="221.7" width="1.1" height="1.1" fill="#505050"/>
<rect x="42.0" y="212.8" width="1.1" height="1.1" fill="#505050"/>
<rect x="40.4" y="203.9" width="1.1" height="1.1" fill="#505050"/>
<rect x="38.7" y="194.9" width="1.1" height="1.1" fill="#505050"/>
<rect x="37.0" y="185.8" width="1.1" height="1.1" fill="#505050"/>
<rect x="35.3" y="176.6" width="1.1" height="1.1" fill="#505050"/>
<rect x="101.6" y="400.9" width="1.1" height="1.1" fill="#505050"/>
<rect x="100.3" y="393.8" width="1.1" height="1.1" fill="#505050"/>
<rect x="99.1" y="386.7" width="1.1" height="1.1" fill="#505050"/>
<rect x="97.9" y="379.6" width="1.1" height="1.1" fill="#505050"/>
<rect x="96.6" y="372.4" width="1.1" height="1.1" fill="#505050"/>
<rect x="95.4" y="365.2" width="1.1" height="1.1" fill="#505050"/>
<rect x="94.1" y="357.9" width="1.1" height="1.1" fill="#505050"/>
<rect x="92.9" y="350.5" width="1.1" height="1.1" fill="#505050"/>
<rect x="91.6" y="343.1" width="1.1" height="1.1" fill="#505050"/>
<rect x="90.3" y="335.6" width="1.1" height="1.1" fill="#505050"/>
<rect x="89.0" y="328.1" width="1.1" height="1.1" fill="#505050"/>
<rect x="87.7" y="320.5" width="1.1" height="1.1" fill="#505050"/>
<rect x="86.4" y="312.8" width="1.1" height="1.1" fill="#505050"/>
<rect x="85.0" y="305.1" width="1.1" height="1.1" fill="#505050"/>
<rect x="83.7" y="297.3" width="1.1" height="1.1" fill="#505050"/>
<rect x="82.4" y="289.5" width="1.1" height="1.1" fill="#505050"/>
<rect x="81.0" y="281.6" width="1.1" height="1.1" fill="#505050"/>
<rect x="79.6" y="273.7" width="1.1" height="1.1" fill="#505050"/>
<rect x="78.2" y="265.6" width="1.1" height="1.1" fill="#505050"/>
<rect x="76.8" y="257.6" width="1.1" height="1.1" fill="#505050"/>
<rect x="75.4" y="249.4" width="1.1" height="1.1" fill="#505050"/>
<rect x="74.0" y="241.2" width="1.1" height="1.1" fill="#505050"/>
<rect x="72.6" y="232.9" width="1.1" height="1.1" fill="#505050"/>
<rect x="71.1" y="224.5" width="1.1" height="1.1" fill="#505050"/>
<rect x="69.7" y="216.1" width="1.1" height="1.1" fill="#505050"/>
<rect x="68.2" y="207.6" width="1.1" height="1.1" fill="#505050"/>
<rect x="66.8" y="199.1" width="1.1" height="1.1" fill="#505050"/>
<rect x="65.3" y="190.4" width="1.1" height="1.1" fill="#505050"/>
<rect x="63.8" y="181.7" width="1.1" height="1.1" fill="#505050"/>
<rect x="62.3" y="173.0" width="1.1" height="1.1" fill="#505050"/>
<rect x="60.7" y="164.1" width="1.1" height="1.1" fill="#505050"/>
<rect x="59.2" y="155.2" width="1.1" height="1.1" fill="#505050"/>
<rect x="57.6" y="146.2" width="1.1" height="1.1" fill="#505050"/>
<rect x="118.9" y="368.6" width="1.1" height="1.1" fill="#505050"/>
<rect x="117.7" y="361.7" width="1.1" height="1.1" fill="#505050"/>
<rect x="116.6" y="354.7" width="1.1" height="1.1" fill="#505050"/>
<rect x="115.5" y="347.6" width="1.1" height="1.1" fill="#505050"/>
<rect x="114.3" y="340.5" width="1.1" height="1.1" fill="#505050"/>
<rect x="113.2" y="333.3" width="1.1" height="1.1" fill="#505050"/>
<rect x="112.0" y="326.1" width="1.1" height="1.1" fill="#505050"/>
<rect x="110.9" y="318.8" width="1.1" height="1.1" fill="#505050"/>
<rect x="109.7" y="311.5" width="1.1" height="1.1" fill="#505050"/>
<rect x="108.5" y="304.1" width="1.1" height="1.1" fill="#505050"/>
<rect x="107.3" y="296.7" width="1.1" height="1.1" fill="#505050"/>
<rect x="106.1" y="289.2" width="1.1" height="1.1" fill="#505050"/>
<rect x="104.9" y="281.6" width="1.1" height="1.1" fill="#505050"/>
<rect x="103.7" y="274.0" width="1.1" height="1.1" fill="#505050"/>
<rect x="102.4" y="266.4" width="1.1" height="1.1" fill="#505050"/>
<rect x="101.2" y="258.7" width="1.1" height="1.1" fill="#505050"/>
<rect x="100.0" y="250.9" width="1.1" height="1.1" fill="#505050"/>
<rect x="98.7" y="243.0" width="1.1" height="1.1" fill="#505050"/>
<rect x="97.4" y="235.1" width="1.1" height="1.1" fill="#505050"/>
<rect x="96.2" y="227.2" width="1.1" height="1.1" fill="#505050"/>
<rect x="94.9" y="219.1" width="1.1" height="1.1" fill="#505050"/>
<rect x="93.6" y="211.0" width="1.1" height="1.1" fill="#505050"/>
<rect x="92.3" y="202.9" width="1.1" height="1.1" fill="#505050"/>
<rect x="90.9" y="194.7" width="1.1" height="1.1" fill="#505050"/>
<rect x="89.6" y="186.4" width="1.1" height="1.1" fill="#505050"/>
<rect x="88.3" y="178.0" width="1.1" height="1.1" fill="#505050"/>
<rect x="86.9" y="169.6" width="1.1" height="1.1" fill="#505050"/>
<rect x="85.6" y="161.1" width="1.1" height="1.1" fill="#505050"/>
<rect x="84.2" y="152.6" width="1.1" height="1.1" fill="#505050"/>
<rect x="82.8" y="143.9" width="1.1" height="1.1" fill="#505050"/>
<rect x="81.4" y="135.2" width="1.1" height="1.1" fill="#505050"/>
<rect x="80.0" y="126.5" width="1.1" height="1.1" fill="#505050"/>
<rect x="78.6" y="117.6" width="1.1" height="1.1" fill="#505050"/>
<rect x="135.2" y="338.1" width="1.1" height="1.1" fill="#505050"/>
<rect x="134.2" y="331.2" width="1.1" height="1.1" fill="#505050"/>
<rect x="133.2" y="324.3" width="1.1" height="1.1" fill="#505050"/>
<rect x="132.1" y="317.3" width="1.1" height="1.1" fill="#505050"/>
<rect x="131.1" y="310.3" width="1.1" height="1.1" fill="#505050"/>
<rect x="130.0" y="303.2" width="1.1" height="1.1" fill="#505050"/>
<rect x="128.9" y="296.1" width="1.1" height="1.1" fill="#505050"/>
<rect x="127.9" y="288.9" width="1.1" height="1.1" fill="#505050"/>
<rect x="126.8" y="281.7" width="1.1" height="1.1" fill="#505050"/>
<rect x="125.7" y="274.4" width="1.1" height="1.1" fill="#505050"/>
<rect x="124.6" y="267.1" width="1.1" height="1.1" fill="#505050"/>
<rect x="123.5" y="259.7" width="1.1" height="1.1" fill="#505050"/>
<rect x="122.4" y="252.2" width="1.1" height="1.1" fill="#505050"/>
<rect x="121.3" y="244.7" width="1.1" height="1.1" fill="#505050"/>
<rect x="120.1" y="237.2" width="1.1" height="1.1" fill="#505050"/>
<rect x="119.0" y="229.5" width="1.1" height="1.1" fill="#505050"/>
<rect x="117.8" y="221.9" width="1.1" height="1.1" fill="#505050"/>
<rect x="116.7" y="214.1" width="1.1" height="1.1" fill="#505050"/>
<rect x="115.5" y="206.4" width="1.1" height="1.1" fill="#505050"/>
<rect x="114.4" y="198.5" width="1.1" height="1.1" fill="#505050"/>
<rect x="113.2" y="190.6" width="1.1" height="1.1" fill="#505050"/>
<rect x="112.0" y="182.6" width="1.1" height="1.1" fill="#505050"/>
<rect x="110.8" y="174.6" width="1.1" height="1.1" fill="#505050"/>
<rect x="109.6" y="166.5" width="1.1" height="1.1" fill="#505050"/>
<rect x="108.4" y="158.4" width="1.1" height="1.1" fill="#505050"/>
<rect x="107.1" y="150.1" width="1.1" height="1.1" fill="#505050"/>
<rect x="105.9" y="141.9" width="1.1" height="1.1" fill="#505050"/>
<rect x="104.6" y="133.5" width="1.1" height="1.1" fill="#505050"/>
<rect x="103.4" y="125.1" width="1.1" height="1.1" fill="#505050"/>
<rect x="102.1" y="116.6" width="1.1" height="1.1" fill="#505050"/>
<rect x="100.8" y="108.1" width="1.1" height="1.1" fill="#505050"/>
<rect x="99.6" y="99.5" width="1.1" height="1.1" fill="#505050"/>
<rect x="98.3" y="90.8" width="1.1" height="1.1" fill="#505050"/>
<rect x="150.7" y="309.2" width="1.1" height="1.1" fill="#505050"/>
<rect x="149.8" y="302.4" width="1.1" height="1.1" fill="#505050"/>
<rect x="148.8" y="295.5" width="1.1" height="1.1" fill="#505050"/>
<rect x="147.9" y="288.6" width="1.1" height="1.1" fill="#505050"/>
<rect x="146.9" y="281.7" width="1.1" height="1.1" fill="#505050"/>
<rect x="145.9" y="274.7" width="1.1" height="1.1" fill="#505050"/>
<rect x="145.0" y="267.7" width="1.1" height="1.1" fill="#505050"/>
<rect x="144.0" y="260.6" width="1.1" height="1.1" fill="#505050"/>
<rect x="143.0" y="253.4" width="1.1" height="1.1" fill="#505050"/>
<rect x="142.0" y="246.3" width="1.1" height="1.1" fill="#505050"/>
<rect x="141.0" y="239.0" width="1.1" height="1.1" fill="#505050"/>
<rect x="139.9" y="231.7" width="1.1" height="1.1" fill="#505050"/>
<rect x="138.9" y="224.4" width="1.1" height="1.1" fill="#505050"/>
<rect x="137.9" y="217.0" width="1.1" height="1.1" fill="#505050"/>
<rect x="136.8" y="209.5" width="1.1" height="1.1" fill="#505050"/>
<rect x="135.8" y="202.0" width="1.1" height="1.1" fill="#505050"/>
<rect x="134.7" y="194.5" width="1.1" height="1.1" fill="#505050"/>
<rect x="133.7" y="186.9" width="1.1" height="1.1" fill="#505050"/>
<rect x="132.6" y="179.2" width="1.1" height="1.1" fill="#505050"/>
<rect x="131.5" y="171.5" width="1.1" height="1.1" fill="#505050"/>
<rect x="130.5" y="163.7" width="1.1" height="1.1" fill="#505050"/>
<rect x="129.4" y="155.8" width="1.1" height="1.1" fill="#505050"/>
<rect x="128.3" y="147.9" width="1.1" height="1.1" fill="#505050"/>
<rect x="127.1" y="140.0" width="1.1" height="1.1" fill="#505050"/>
<rect x="126.0" y="131.9" width="1.1" height="1.1" fill="#505050"/>
<rect x="124.9" y="123.9" width="1.1" height="1.1" fill="#505050"/>
<rect x="123.8" y="115.7" width="1.1" height="1.1" fill="#505050"/>
<rect x="122.6" y="107.5" width="1.1" height="1.1" fill="#505050"/>
<rect x="121.5" y="99.3" width="1.1" height="1.1" fill="#505050"/>
<rect x="120.3" y="90.9" width="1.1" height="1.1" fill="#505050"/>
<rect x="119.1" y="82.5" width="1.1" height="1.1" fill="#505050"/>
<rect x="118.0" y="74.1" width="1.1" height="1.1" fill="#505050"/>
<rect x="116.8" y="65.6" width="1.1" height="1.1" fill="#505050"/>
<rect x="165.5" y="281.7" width="1.1" height="1.1" fill="#505050"/>
<rect x="164.6" y="275.0" width="1.1" height="1.1" fill="#505050"/>
<rect x="163.7" y="268.2" width="1.1" height="1.1" fill="#505050"/>
<rect x="162.8" y="261.4" width="1.1" height="1.1" fill="#505050"/>
<rect x="161.9" y="254.6" width="1.1" height="1.1" fill="#505050"/>
<rect x="161.0" y="247.7" width="1.1" height="1.1" fill="#505050"/>
<rect x="160.1" y="240.7" width="1.1" height="1.1" fill="#505050"/>
<rect x="159.2" y="233.7" width="1.1" height="1.1" fill="#505050"/>
<rect x="158.3" y="226.7" width="1.1" height="1.1" fill="#505050"/>
<rect x="157.4" y="219.6" width="1.1" height="1.1" fill="#505050"/>
<rect x="156.5" y="212.5" width="1.1" height="1.1" fill="#505050"/>
<rect x="155.5" y="205.3" width="1.1" height="1.1" fill="#505050"/>
<rect x="154.6" y="198.0" width="1.1" height="1.1" fill="#505050"/>
<rect x="153.6" y="190.7" width="1.1" height="1.1" fill="#505050"/>
<rect x="152.7" y="183.4" width="1.1" height="1.1" fill="#505050"/>
<rect x="151.7" y="176.0" width="1.1" height="1.1" fill="#505050"/>
<rect x="150.7" y="168.5" width="1.1" height="1.1" fill="#505050"/>
<rect x="149.8" y="161.0" width="1.1" height="1.1" fill="#505050"/>
<rect x="148.8" y="153.5" width="1.1" height="1.1" fill="#505050"/>
<rect x="147.8" y="145.9" width="1.1" height="1.1" fill="#505050"/>
<rect x="146.8" y="138.2" width="1.1" height="1.1" fill="#505050"/>
<rect x="145.8" y="130.5" width="1.1" height="1.1" fill="#505050"/>
<rect x="144.8" y="122.7" width="1.1" height="1.1" fill="#505050"/>
<rect x="143.8" y="114.9" width="1.1" height="1.1" fill="#505050"/>
<rect x="142.7" y="107.0" width="1.1" height="1.1" fill="#505050"/>
<rect x="141.7" y="99.0" width="1.1" height="1.1" fill="#505050"/>
<rect x="140.7" y="91.0" width="1.1" height="1.1" fill="#505050"/>
<rect x="139.6" y="83.0" width="1.1" height="1.1" fill="#505050"/>
<rect x="138.5" y="74.9" width="1.1" height="1.1" fill="#505050"/>
<rect x="137.5" y="66.7" width="1.1" height="1.1" fill="#505050"/>
<rect x="136.4" y="58.4" width="1.1" height="1.1" fill="#505050"/>
<rect x="135.3" y="50.1" width="1.1" height="1.1" fill="#505050"/>
<rect x="134.2" y="41.7" width="1.1" height="1.1" fill="#505050"/>
</g>
<!-- blank regions -->
<g fill="#fff">
<rect x="396" y="38" width="108" height="51"/>
<rect x="414" y="88" width="152" height="77"/>
</g>
<rect x="487" y="113" width="1.1" height="1.1" fill="#444"/>
<rect x="534" y="121" width="1.1" height="1.1" fill="#444"/>
<g>
<line x1="83.8" y1="435.5" x2="728.5" y2="454.9" stroke="#404040" stroke-width="1.3" />
<line x1="102.1" y1="401.4" x2="728.5" y2="419.5" stroke="#404040" stroke-width="1.3" />
<line x1="119.4" y1="369.2" x2="728.5" y2="386.2" stroke="#404040" stroke-width="1.3" />
<line x1="135.8" y1="338.7" x2="720.0" y2="354.4" stroke="#404040" stroke-width="1.3" />
<line x1="151.3" y1="309.7" x2="728.5" y2="324.8" stroke="#404040" stroke-width="1.3" />
<line x1="166.0" y1="282.3" x2="728.5" y2="296.4" stroke="#404040" stroke-width="1.3" />
<line x1="180.0" y1="256.2" x2="728.5" y2="269.5" stroke="#404040" stroke-width="1.3" />
<line x1="180.0" y1="256.2" x2="80.9" y2="441.0" stroke="#404040" stroke-width="1.3" />
<line x1="285.5" y1="258.8" x2="204.9" y2="444.9" stroke="#404040" stroke-width="1.3" />
<line x1="391.6" y1="261.3" x2="330.0" y2="448.9" stroke="#404040" stroke-width="1.3" />
<line x1="498.5" y1="263.9" x2="456.1" y2="452.8" stroke="#404040" stroke-width="1.3" />
<line x1="606.0" y1="266.6" x2="583.2" y2="456.7" stroke="#404040" stroke-width="1.3" />
<line x1="714.3" y1="269.2" x2="711.3" y2="460.6" stroke="#404040" stroke-width="1.3" />
<line x1="77.7" y1="402.6" x2="74.3" y2="408.7" stroke="#404040" stroke-width="1.3" />
<line x1="71.3" y1="368.4" x2="67.8" y2="374.5" stroke="#404040" stroke-width="1.3" />
<line x1="64.8" y1="333.0" x2="61.2" y2="339.0" stroke="#404040" stroke-width="1.3" />
<line x1="50.9" y1="258.1" x2="47.0" y2="264.0" stroke="#404040" stroke-width="1.3" />
<line x1="43.5" y1="218.4" x2="39.5" y2="224.2" stroke="#404040" stroke-width="1.3" />
<line x1="35.9" y1="177.2" x2="31.7" y2="182.8" stroke="#404040" stroke-width="1.3" />
</g>
<rect x="161.8" y="280.6" width="15" height="7.6" fill="#fff"/>
<rect x="165" y="282.5" width="1.1" height="1.1" fill="#555"/>
<rect x="167.5" y="285.5" width="1.1" height="1.1" fill="#555"/>
<g>
<line x1="115.7" y1="204.7" x2="733.2" y2="218.7" stroke="#d94cd9" stroke-width="1.3" />
<line x1="324.8" y1="303.1" x2="389.4" y2="132.1" stroke="#d94cd9" stroke-width="1.3" />
<line x1="364.2" y1="344.8" x2="356.3" y2="96.3" stroke="#d94cd9" stroke-width="1.3" />
</g>
<g fill="none" stroke="#1a1aff" stroke-width="1.05">
<circle cx="170.3" cy="62.4" r="1.75"/>
<circle cx="170.7" cy="64.1" r="1.75"/>
<circle cx="169.5" cy="65.5" r="1.75"/>
<circle cx="166.1" cy="66.4" r="1.75"/>
<circle cx="162.1" cy="75.5" r="1.75"/>
<circle cx="169.0" cy="75.0" r="1.75"/>
<circle cx="171.8" cy="74.4" r="1.75"/>
<circle cx="169.5" cy="76.7" r="1.75"/>
<circle cx="171.3" cy="82.4" r="1.75"/>
<circle cx="168.4" cy="84.5" r="1.75"/>
<circle cx="165.0" cy="83.3" r="1.75"/>
<circle cx="162.1" cy="86.0" r="1.75"/>
<circle cx="159.3" cy="94.4" r="1.75"/>
<circle cx="166.7" cy="94.4" r="1.75"/>
<circle cx="166.9" cy="94.8" r="1.75"/>
<circle cx="167.3" cy="102.7" r="1.75"/>
<circle cx="172.8" cy="121.4" r="1.75"/>
<circle cx="178.0" cy="126.6" r="1.75"/>
<circle cx="171.1" cy="127.1" r="1.75"/>
<circle cx="172.3" cy="128.8" r="1.75"/>
<circle cx="175.1" cy="131.1" r="1.75"/>
<circle cx="171.1" cy="132.3" r="1.75"/>
<circle cx="166.6" cy="134.5" r="1.75"/>
<circle cx="174.5" cy="137.4" r="1.75"/>
<circle cx="172.3" cy="138.5" r="1.75"/>
<circle cx="164.8" cy="138.0" r="1.75"/>
<circle cx="165.4" cy="142.5" r="1.75"/>
<circle cx="168.3" cy="143.7" r="1.75"/>
<circle cx="171.1" cy="143.7" r="1.75"/>
<circle cx="167.7" cy="146.5" r="1.75"/>
<circle cx="163.7" cy="149.4" r="1.75"/>
<circle cx="167.1" cy="150.0" r="1.75"/>
<circle cx="170.5" cy="150.5" r="1.75"/>
<circle cx="165.4" cy="155.7" r="1.75"/>
<circle cx="209.1" cy="132.4" r="1.75"/>
<circle cx="205.7" cy="134.7" r="1.75"/>
<circle cx="204.0" cy="136.4" r="1.75"/>
<circle cx="200.5" cy="139.8" r="1.75"/>
<circle cx="205.7" cy="145.0" r="1.75"/>
<circle cx="203.4" cy="146.1" r="1.75"/>
<circle cx="199.4" cy="146.7" r="1.75"/>
<circle cx="199.3" cy="153.3" r="1.75"/>
<circle cx="196.2" cy="156.2" r="1.75"/>
<circle cx="202.4" cy="156.2" r="1.75"/>
<circle cx="199.1" cy="156.2" r="1.75"/>
<circle cx="194.5" cy="159.1" r="1.75"/>
<circle cx="199.1" cy="159.1" r="1.75"/>
<circle cx="196.2" cy="162.5" r="1.75"/>
<circle cx="196.6" cy="164.5" r="1.75"/>
<circle cx="199.5" cy="169.1" r="1.75"/>
<circle cx="190.4" cy="169.9" r="1.75"/>
<circle cx="196.6" cy="172.8" r="1.75"/>
<circle cx="193.7" cy="174.9" r="1.75"/>
<circle cx="194.5" cy="179.9" r="1.75"/>
<circle cx="98.7" cy="271.2" r="1.75"/>
<circle cx="103.7" cy="273.5" r="1.75"/>
<circle cx="100.6" cy="284.3" r="1.75"/>
<circle cx="97.4" cy="286.2" r="1.75"/>
<circle cx="103.1" cy="288.4" r="1.75"/>
<circle cx="96.8" cy="291.2" r="1.75"/>
<circle cx="98.8" cy="295.7" r="1.75"/>
<circle cx="102.5" cy="295.7" r="1.75"/>
<circle cx="91.1" cy="300.4" r="1.75"/>
<circle cx="95.2" cy="301.4" r="1.75"/>
<circle cx="100.4" cy="303.5" r="1.75"/>
<circle cx="90.5" cy="308.7" r="1.75"/>
<circle cx="98.8" cy="308.7" r="1.75"/>
<circle cx="96.2" cy="311.8" r="1.75"/>
<circle cx="91.1" cy="313.3" r="1.75"/>
<circle cx="97.3" cy="316.4" r="1.75"/>
<circle cx="91.1" cy="319.0" r="1.75"/>
<circle cx="155.4" cy="343.4" r="1.75"/>
<circle cx="149.5" cy="348.5" r="1.75"/>
<circle cx="158.3" cy="349.5" r="1.75"/>
<circle cx="156.1" cy="352.5" r="1.75"/>
<circle cx="150.3" cy="358.0" r="1.75"/>
<circle cx="154.6" cy="359.0" r="1.75"/>
<circle cx="151.7" cy="361.6" r="1.75"/>
<circle cx="153.2" cy="367.0" r="1.75"/>
<circle cx="151.7" cy="370.6" r="1.75"/>
<circle cx="153.9" cy="373.1" r="1.75"/>
<circle cx="145.9" cy="373.5" r="1.75"/>
<circle cx="151.0" cy="375.0" r="1.75"/>
<circle cx="149.5" cy="378.3" r="1.75"/>
<circle cx="151.7" cy="382.3" r="1.75"/>
<circle cx="147.4" cy="385.2" r="1.75"/>
<circle cx="145.9" cy="388.1" r="1.75"/>
<circle cx="148.1" cy="394.6" r="1.75"/>
<circle cx="147.4" cy="398.3" r="1.75"/>
<circle cx="148.1" cy="401.9" r="1.75"/>
<circle cx="624.5" cy="123.7" r="1.75"/>
<circle cx="627.8" cy="124.5" r="1.75"/>
<circle cx="630.3" cy="126.6" r="1.75"/>
<circle cx="623.7" cy="126.6" r="1.75"/>
<circle cx="626.6" cy="127.4" r="1.75"/>
<circle cx="629.1" cy="129.9" r="1.75"/>
<circle cx="621.6" cy="130.3" r="1.75"/>
<circle cx="625.3" cy="130.8" r="1.75"/>
<circle cx="619.9" cy="133.3" r="1.75"/>
<circle cx="623.2" cy="133.3" r="1.75"/>
<circle cx="626.1" cy="134.9" r="1.75"/>
<circle cx="620.7" cy="134.9" r="1.75"/>
<circle cx="624.5" cy="136.6" r="1.75"/>
<circle cx="626.1" cy="139.9" r="1.75"/>
<circle cx="634.5" cy="205.0" r="1.75"/>
<circle cx="638.7" cy="207.4" r="1.75"/>
<circle cx="639.5" cy="209.9" r="1.75"/>
<circle cx="632.8" cy="210.8" r="1.75"/>
<circle cx="635.7" cy="212.4" r="1.75"/>
<circle cx="632.8" cy="214.1" r="1.75"/>
<circle cx="636.6" cy="215.7" r="1.75"/>
<circle cx="634.1" cy="216.6" r="1.75"/>
<circle cx="638.2" cy="217.8" r="1.75"/>
<circle cx="635.7" cy="219.1" r="1.75"/>
<circle cx="632.8" cy="221.6" r="1.75"/>
<circle cx="631.6" cy="224.5" r="1.75"/>
<circle cx="578.7" cy="227.1" r="1.75"/>
<circle cx="576.6" cy="229.1" r="1.75"/>
<circle cx="574.9" cy="230.4" r="1.75"/>
<circle cx="570.4" cy="234.9" r="1.75"/>
<circle cx="576.6" cy="233.7" r="1.75"/>
<circle cx="576.2" cy="236.6" r="1.75"/>
<circle cx="570.8" cy="240.7" r="1.75"/>
<circle cx="576.2" cy="242.0" r="1.75"/>
<circle cx="573.3" cy="242.4" r="1.75"/>
<circle cx="571.2" cy="244.5" r="1.75"/>
<circle cx="575.7" cy="247.4" r="1.75"/>
<circle cx="572.8" cy="248.2" r="1.75"/>
<circle cx="569.5" cy="251.1" r="1.75"/>
<circle cx="569.1" cy="253.2" r="1.75"/>
<circle cx="569.5" cy="254.9" r="1.75"/>
<circle cx="633.7" cy="255.4" r="1.75"/>
<circle cx="631.6" cy="257.5" r="1.75"/>
<circle cx="628.7" cy="260.4" r="1.75"/>
<circle cx="632.4" cy="260.8" r="1.75"/>
<circle cx="629.9" cy="262.9" r="1.75"/>
<circle cx="634.1" cy="264.1" r="1.75"/>
<circle cx="629.1" cy="265.3" r="1.75"/>
<circle cx="631.6" cy="266.6" r="1.75"/>
<circle cx="629.5" cy="268.3" r="1.75"/>
<circle cx="627.0" cy="272.0" r="1.75"/>
<circle cx="166.7" cy="94.4" r="2.0" fill="#1a1aff"/>
<circle cx="625.5" cy="127.0" r="2.0" fill="#1a1aff"/>
<circle cx="623.0" cy="130.5" r="2.0" fill="#1a1aff"/>
<circle cx="627.5" cy="130.0" r="2.0" fill="#1a1aff"/>
<circle cx="622.0" cy="133.5" r="2.0" fill="#1a1aff"/>
<circle cx="625.0" cy="134.0" r="2.0" fill="#1a1aff"/>
<circle cx="635.5" cy="211.5" r="2.0" fill="#1a1aff"/>
<circle cx="634.0" cy="213.5" r="2.0" fill="#1a1aff"/>
<circle cx="636.5" cy="214.5" r="2.0" fill="#1a1aff"/>
<circle cx="634.5" cy="216.5" r="2.0" fill="#1a1aff"/>
<circle cx="637.0" cy="217.5" r="2.0" fill="#1a1aff"/>
<circle cx="635.0" cy="219.0" r="2.0" fill="#1a1aff"/>
<circle cx="631.5" cy="259.0" r="2.0" fill="#1a1aff"/>
<circle cx="630.5" cy="262.0" r="2.0" fill="#1a1aff"/>
<circle cx="632.5" cy="263.0" r="2.0" fill="#1a1aff"/>
<circle cx="630.0" cy="265.5" r="2.0" fill="#1a1aff"/>
<circle cx="632.0" cy="266.0" r="2.0" fill="#1a1aff"/>
<circle cx="630.5" cy="267.5" r="2.0" fill="#1a1aff"/>
<circle cx="573.0" cy="242.5" r="2.0" fill="#1a1aff"/>
<circle cx="572.0" cy="245.0" r="2.0" fill="#1a1aff"/>
<circle cx="569.5" cy="252.5" r="2.0" fill="#1a1aff"/>
</g>
<ellipse cx="604.5" cy="200" rx="64.2" ry="86.6" fill="none" stroke="#444" stroke-width="1.1"/>
<!-- white boxes behind annotations -->
<g fill="#fff">
<rect x="182" y="29" width="83" height="32"/>
<rect x="61" y="158" width="111" height="32"/>
<rect x="234" y="136" width="79" height="30"/>
<rect x="169.5" y="286" width="88" height="14"/>
<rect x="169.5" y="300" width="84" height="14"/>
<rect x="169" y="346" width="91" height="16"/>
<rect x="173" y="364" width="56" height="16"/>
<rect x="720" y="348" width="43" height="18"/>
</g>
<g class="an">
<text x="184.5" y="40.5">Fazi battaglio,</text>
<text x="184" y="57">2003, 12% vol</text>
<text x="64" y="170.5">Casal dei Cavalieri,</text>
<text x="63.5" y="186">2002, 12.5% vol</text>
<text x="236.8" y="148">Piersanti,</text>
<text x="236" y="163">2003,12% vol</text>
<text x="170" y="298.3" fill="#e0383c">Monte Schiavo,</text>
<text x="170.7" y="311.5" fill="#e0383c">2001, 12% vol</text>
<text x="171.2" y="358.7">Sartarelli, 2002,</text>
<text x="180.2" y="376.8">13% vol</text>
<text x="416" y="129.3" style="white-space:pre">artificial wine:  5 g/l</text>
<text x="417.5" y="144.5">tartaric acid,10% vol</text>
<text x="417.8" y="159.5">ethanol, pH 3.2</text>
</g>
<g class="ax">
<text x="587" y="133.5">aw2</text>
<text x="594.5" y="217">aw3</text>
<text x="523.6" y="223.8">aw1</text>
<text x="592" y="278.6">aw4</text>
<text x="47" y="457">-100</text>
<text x="181" y="462.7">-50</text>
<text x="320" y="465.5">0</text>
<text x="437.3" y="468.8">50</text>
<text x="557.5" y="472.8">100</text>
<text x="684.6" y="476.8">150</text>
<text x="734.9" y="283.5">30</text>
<text x="735" y="310.6">20</text>
<text x="735.6" y="338.7">10</text>
<text x="733.8" y="400.5">-10</text>
<text x="733.8" y="434.1">-20</text>
<text x="733.8" y="467.3">-30</text>
<text x="56" y="440">-20</text>
<text x="50.1" y="406.9">-15</text>
<text x="43.6" y="374">-10</text>
<text x="51.2" y="337.1">5</text>
<text x="37" y="261.8">5</text>
<text x="22.2" y="222.2">10</text>
<text x="14.3" y="181.1">15</text>
</g>
<g class="lb">
<text x="375" y="472">PC 1</text>
<text x="724.7" y="363.8">PC 2</text>
<text x="24.4" y="303.7">PC 3</text>
</g>
<line x1="195.8" y1="57.9" x2="180.0" y2="76.9" stroke="#111" stroke-width="1.0"/><polygon points="174.8,83.2 178.5,72.0 180.0,76.9 185.1,77.5" fill="#111"/>
<line x1="130.5" y1="157.6" x2="153.8" y2="148.6" stroke="#111" stroke-width="1.0"/><polygon points="161.4,145.6 152.7,153.6 153.8,148.6 149.6,145.6" fill="#111"/>
<line x1="234.6" y1="152.1" x2="208.7" y2="163.1" stroke="#111" stroke-width="1.0"/><polygon points="201.2,166.3 209.6,158.0 208.7,163.1 213.0,166.0" fill="#111"/>
<line x1="168.3" y1="288.1" x2="112.4" y2="301.7" stroke="#333" stroke-width="1.0"/><polygon points="104.4,303.6 114.1,296.8 112.4,301.7 116.1,305.2" fill="#333"/>
<line x1="176.2" y1="368.4" x2="164.7" y2="360.1" stroke="#111" stroke-width="1.0"/><polygon points="158.1,355.3 169.5,358.3 164.7,360.1 164.5,365.2" fill="#111"/>
<line x1="512.3" y1="153.3" x2="537.4" y2="168.0" stroke="#111" stroke-width="1.0"/><polygon points="544.5,172.2 532.8,170.3 537.4,168.0 537.2,162.9" fill="#111"/>
</svg>
</body></html>
